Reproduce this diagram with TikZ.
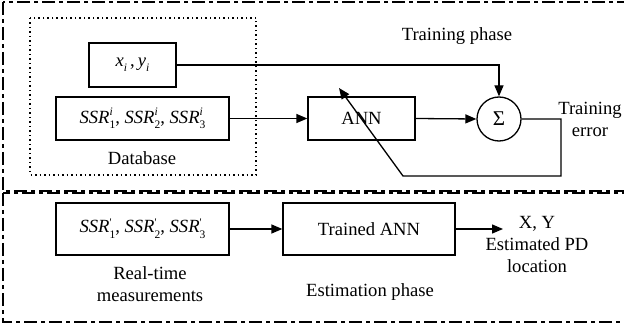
\documentclass[tikz,border=0pt]{standalone}
\usepackage{fontspec}
\setmainfont{Liberation Serif}
\usetikzlibrary{arrows.meta}
\newcommand{\smt}[1]{\mbox{\fontsize{11.5}{11.5}\selectfont #1}}
\newcommand{\ssrt}[2]{\textit{SSR}\rlap{\raisebox{7.5pt}{\smt{#1}}}\raisebox{-5pt}{\smt{#2}}}
\newcommand{\ssrp}[1]{\textit{SSR}\rlap{\raisebox{6pt}{\smt{\textquotesingle}}}\raisebox{-6pt}{\smt{#1}}}
\begin{document}
\begin{tikzpicture}[x=1pt,y=-1pt,
  font=\fontsize{18.6}{22}\selectfont,
  line width=1.3pt,
  box/.style={draw,line width=1.3pt,inner sep=0pt,minimum width=#1},
  arr/.style={-{Triangle[length=11pt,width=9pt]}},
  frame/.style={line width=1.1pt,dash pattern=on 13pt off 4pt on 4pt off 4pt},
  lbl/.style={align=center,inner sep=0pt}]
\useasboundingbox (0,0) rectangle (624,331);
% frames
\draw[frame] (3,2) rectangle (640,191);
\draw[frame] (3,193) rectangle (640,322);
\draw[line width=1.1pt,dash pattern=on 1.5pt off 3pt] (30,18) rectangle (256,175);
% nodes
\node[box=87pt,minimum height=44pt] (xy) at (132.5,65) {\textit{x}\raisebox{-5pt}{\smt{\textit{i}}}\,,\,\textit{y}\raisebox{-5pt}{\smt{\textit{i}}}};
\node[box=173pt,minimum height=43pt] (ssr) at (142.5,118.5) {\ssrt{\textit{i}}{1}, \ssrt{\textit{i}}{2}, \ssrt{\textit{i}}{3}};
\node[box=107pt,minimum height=43pt] (ann) at (361.5,118.5) {ANN};
\node[draw,circle,line width=1.3pt,minimum size=44pt,inner sep=0pt] (sig) at (499,119) {\fontsize{21}{21}\selectfont Σ};
\node[box=173pt,minimum height=52pt] (ssr2) at (142.5,229) {\ssrp{1}, \ssrp{2}, \ssrp{3}};
\node[box=172pt,minimum height=52pt] (tann) at (369,229) {Trained ANN};
% labels
\node[lbl] (db) at (142,158) {Database};
\node[lbl] (tp) at (457,36) {Training phase};
\node[lbl] (te) at (590,119) {Training\\error};
\node[lbl] (xyl) at (537,245) {X, Y\\Estimated PD\\location};
\node[lbl] (ep) at (370,292) {Estimation phase};
\node[lbl] (rt) at (150,284) {Real-time\\measurements};
% coordinates
\coordinate (c1) at (561,119);
\coordinate (c2) at (561,176);
\coordinate (c3) at (403,176);
\coordinate (c4) at (339,88);
\coordinate (out) at (503,229);
% connectors
\draw[arr] (xy.east) -| (sig.north);
\draw[arr] (ssr.east) -- (ann.west);
\draw[arr] (ann.east) -- (sig.west);
\draw[arr] (sig.east) -- (c1) -- (c2) -- (c3) -- (c4);
\draw[arr] (ssr2.east) -- (tann.west);
\draw[arr] (tann.east) -- (out);
\end{tikzpicture}
\end{document}
